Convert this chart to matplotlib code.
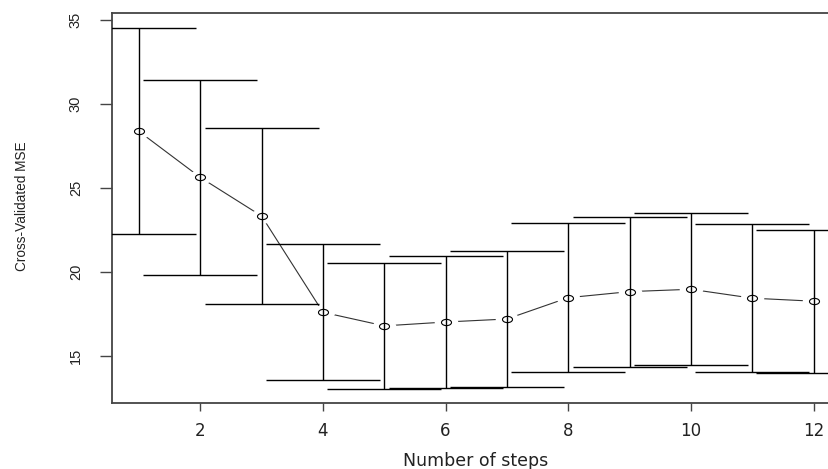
import numpy as np
import matplotlib
matplotlib.use("Agg")
import matplotlib.pyplot as plt
from matplotlib.path import Path
from matplotlib.transforms import Affine2D

# ==========================================
# Data
# ==========================================
steps = [1, 2, 3, 4, 5, 6, 7, 8, 9, 10, 11, 12]
cv_mse = [28.37, 25.63, 23.33, 17.60, 16.79, 17.02, 17.20, 18.47, 18.83, 18.97, 18.44, 18.26]
cv_se = [6.13, 5.82, 5.22, 4.04, 3.76, 3.95, 4.02, 4.42, 4.46, 4.52, 4.42, 4.26]
cap_half = 0.93

x_ticks = [2, 4, 6, 8, 10, 12]
y_ticks = [15, 20, 25, 30, 35]

W, H = 829, 469
DPI = 100

x = np.array(steps)
m = np.array(cv_mse)
s = np.array(cv_se)
lo, hi = m - s, m + s

# the source image was stretched sideways, so points are drawn as flat ellipses
ellipse = Path.unit_circle().transformed(Affine2D().scale(1.6, 1.0))

fig = plt.figure(figsize=(W / DPI, H / DPI), dpi=DPI)
ax_l, ax_r, ax_t, ax_b = 112, 840.5, 13, 403.3
ax = fig.add_axes([ax_l / W, 1 - ax_b / H, (ax_r - ax_l) / W, (ax_b - ax_t) / H])

ax.plot(x, m, color="#333333", lw=0.8, zorder=1)
ax.plot(x, m, linestyle="none", marker=ellipse, markersize=17,
        markerfacecolor="white", markeredgecolor="none", zorder=2)
ax.vlines(x, lo, hi, color="black", lw=1.0, zorder=3)
ax.hlines(hi, x - cap_half, x + cap_half, color="black", lw=1.0, zorder=3)
ax.hlines(lo, x - cap_half, x + cap_half, color="black", lw=1.0, zorder=3)
ax.plot(x, m, linestyle="none", marker=ellipse, markersize=7.2,
        markerfacecolor="none", markeredgecolor="black", markeredgewidth=0.8, zorder=4)

ax.set_xlim(0.56, 12.44)
ax.set_ylim(12.18, 35.42)
ax.set_xticks(x_ticks)
ax.set_yticks(y_ticks)

for sp in ax.spines.values():
    sp.set_color("#444444")
    sp.set_linewidth(1.3)

ax.tick_params(axis="x", length=6, width=1.0, color="#444444", pad=7.4,
               labelsize=12, labelcolor="#222222")
ax.tick_params(axis="y", length=9, width=1.0, color="#444444", pad=12,
               labelsize=10.5, labelcolor="#222222")
for lab in ax.get_xticklabels():
    lab.set_family("DejaVu Sans")
for lab in ax.get_yticklabels():
    lab.set_family("Liberation Sans")
    lab.set_rotation(90)
    lab.set_va("center")

ax.set_xlabel("Number of steps", fontsize=12.5, family="DejaVu Sans",
              color="#222222", va="center")
ax.xaxis.set_label_coords(0.499, -0.149)
ax.set_ylabel("Cross-Validated MSE", fontsize=9.8, family="Liberation Sans",
              color="#222222", va="center")
ax.yaxis.set_label_coords(-0.1235, 0.504)

fig.savefig("out.png", dpi=DPI)
plt.close(fig)
